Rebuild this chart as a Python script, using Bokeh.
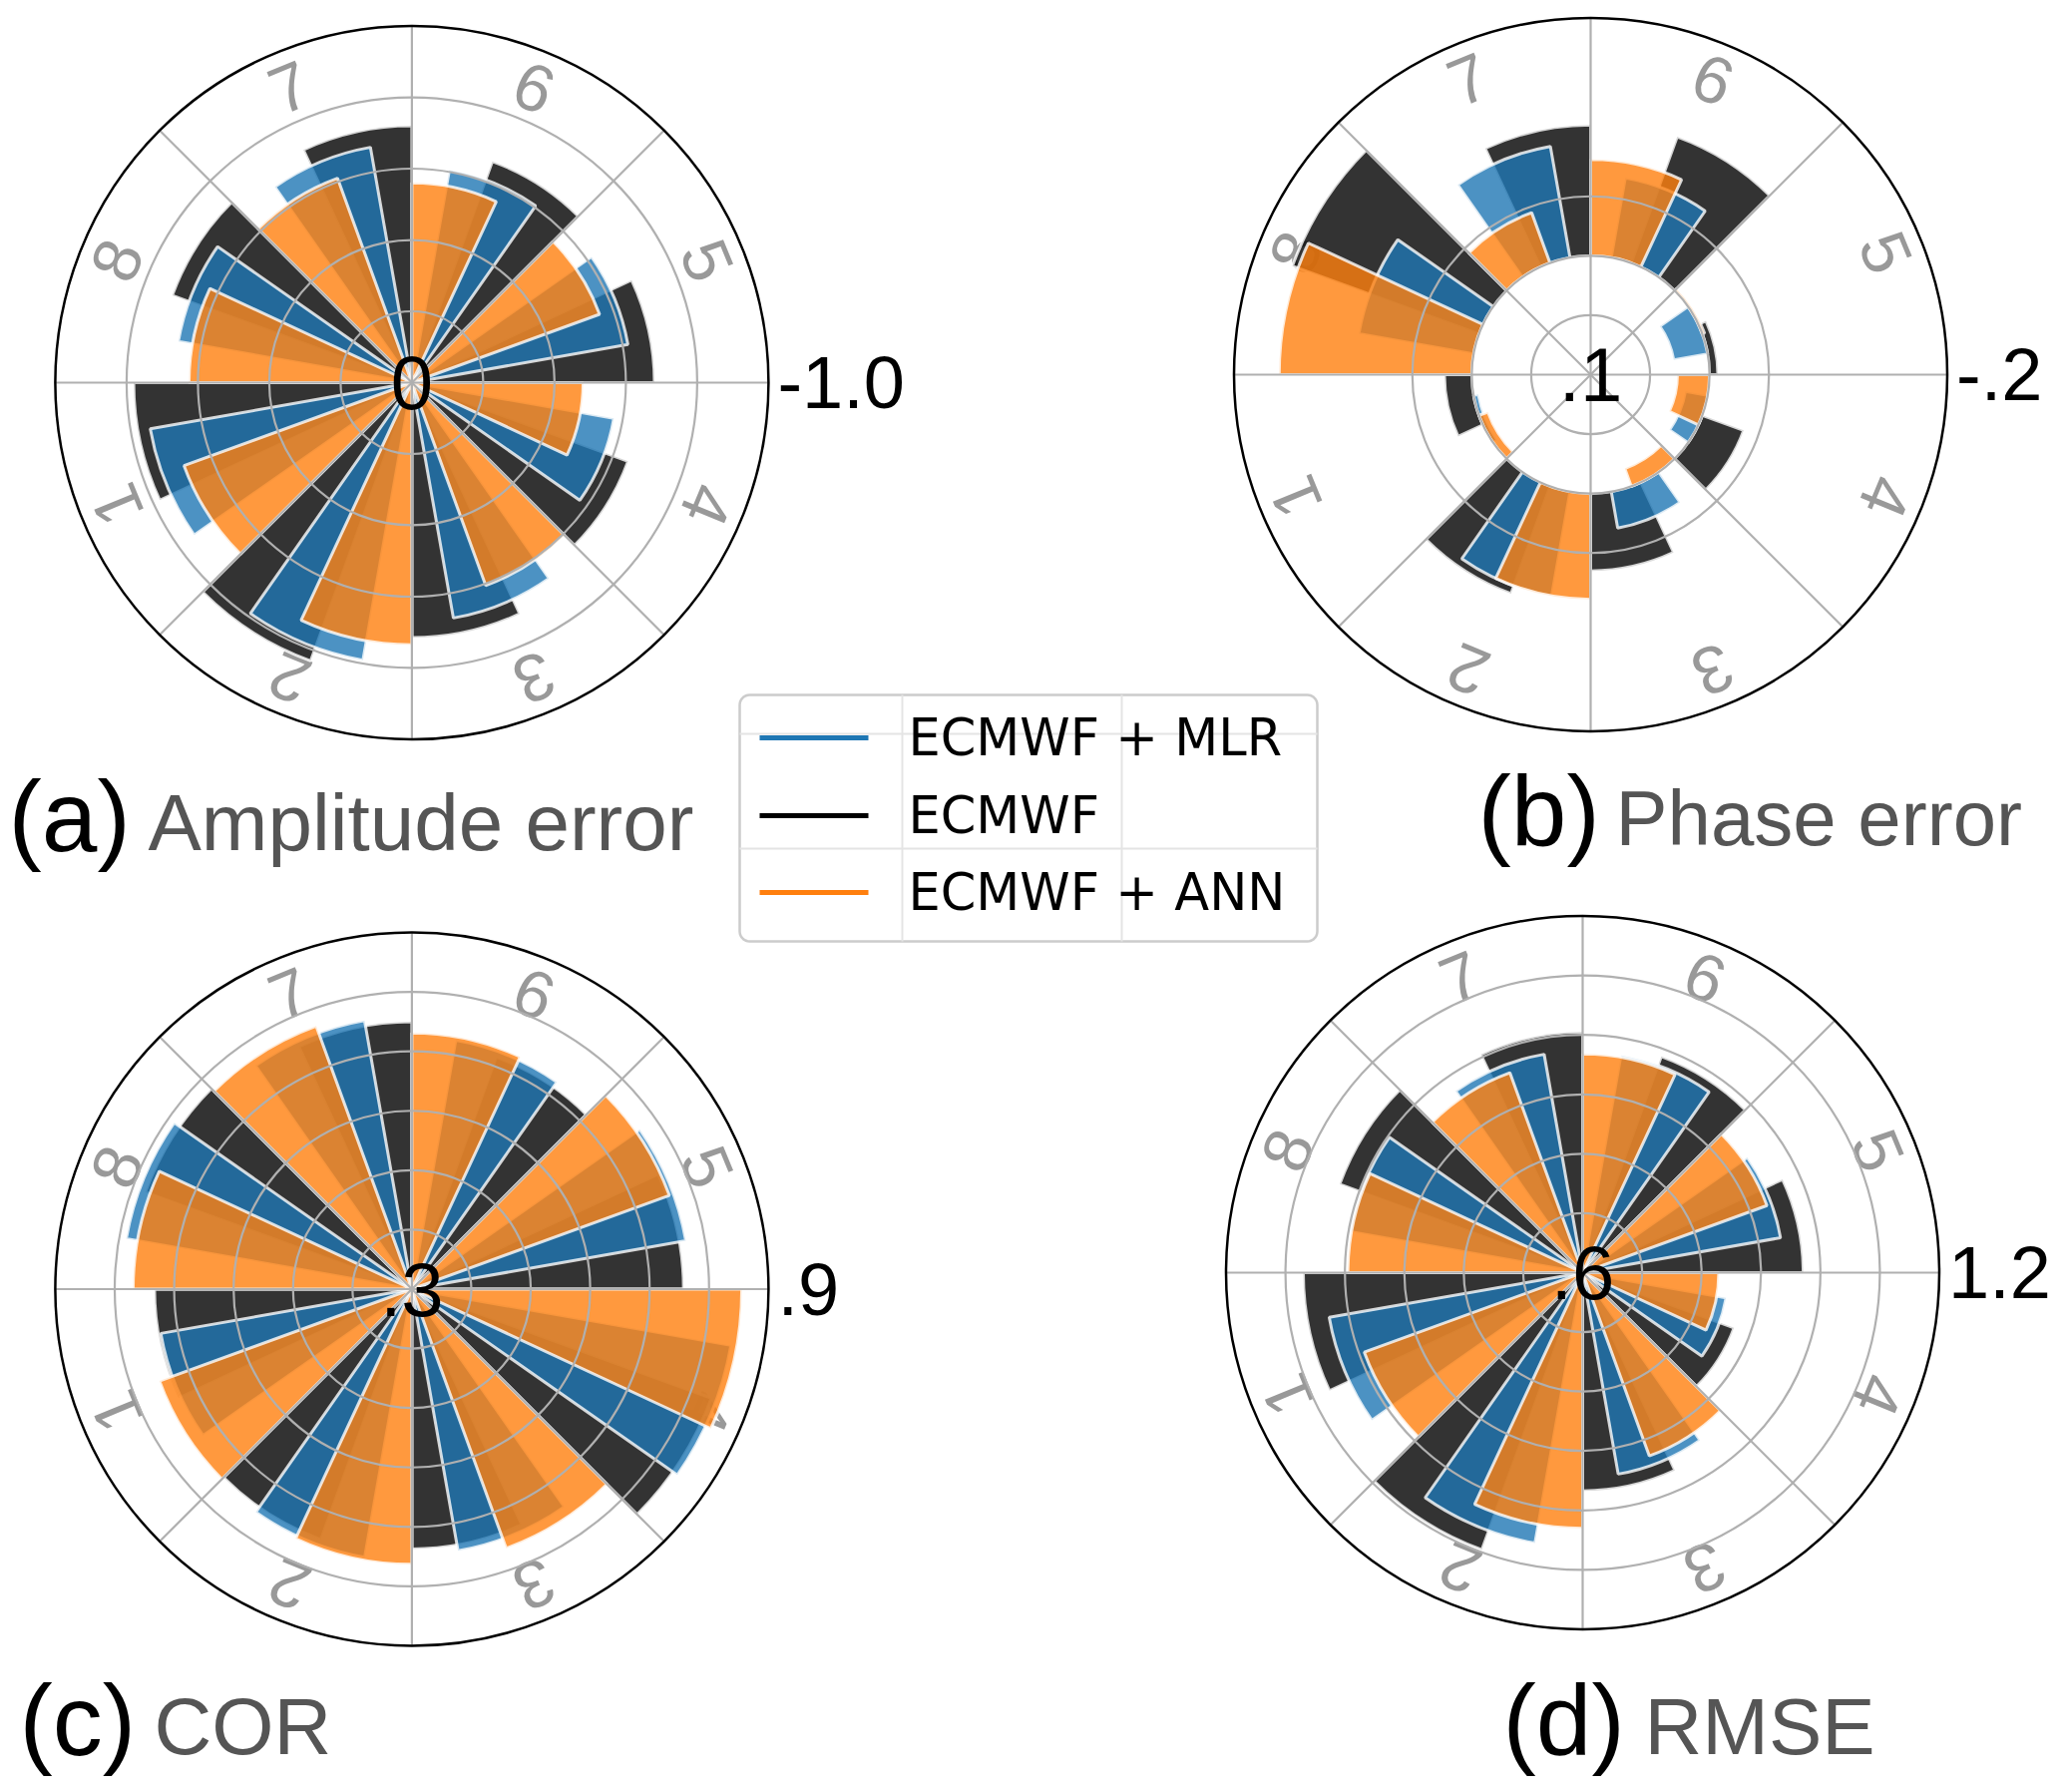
import numpy as np
from bokeh.plotting import figure
from bokeh.models import Range1d
from bokeh.core.properties import value
from bokeh.embed import file_html
from bokeh.resources import INLINE

# ---------------- data ----------------
phases = ["1", "2", "3", "4", "5", "6", "7", "8"]
series = ["ECMWF + MLR", "ECMWF", "ECMWF + ANN"]

amp_ecmwf = [-0.78, -0.83, -0.715, -0.645, -0.68, -0.66, -0.72, -0.715]
amp_mlr = [-0.745, -0.79, -0.67, -0.575, -0.615, -0.605, -0.67, -0.665]
amp_ann = [-0.68, -0.735, -0.605, -0.48, -0.56, -0.56, -0.61, -0.625]

pha_ecmwf = [-0.023, -0.096, -0.065, -0.037, -0.007, -0.113, -0.110, -0.167]
pha_mlr = [0.004, -0.089, -0.031, 0.019, 0.029, -0.068, -0.095, -0.098]
pha_ann = [0.008, -0.089, 0.016, 0.027, -0.002, -0.081, -0.045, -0.162]

cor_ecmwf = [0.733, 0.748, 0.737, 0.836, 0.757, 0.715, 0.750, 0.777]
cor_mlr = [0.729, 0.758, 0.747, 0.845, 0.768, 0.725, 0.759, 0.788]
cor_ann = [0.752, 0.763, 0.764, 0.855, 0.761, 0.731, 0.771, 0.769]

rmse_ecmwf = [1.070, 1.096, 0.967, 0.871, 0.971, 0.987, 1.005, 1.035]
rmse_mlr = [1.033, 1.062, 0.944, 0.845, 0.938, 0.971, 0.973, 0.997]
rmse_ann = [0.991, 1.030, 0.928, 0.829, 0.930, 0.968, 0.958, 0.995]

# radial axis settings: (value at centre, value at rim, bar base, grid values, centre label, rim label)
amp_axis = (0.0, -1.0, 0.0, [-0.2, -0.4, -0.6, -0.8], "0", "-1.0")
pha_axis = (0.1, -0.2, 0.0, [0.05, 0.0, -0.05], ".1", "-.2")
cor_axis = (0.3, 0.9, 0.3, [0.4, 0.5, 0.6, 0.7, 0.8], ".3", ".9")
rmse_axis = (0.6, 1.2, 0.6, [0.7, 0.8, 0.9, 1.0, 1.1], ".6", "1.2")

titles = [("(a)", "Amplitude error"), ("(b)", "Phase error"), ("(c)", "COR"), ("(d)", "RMSE")]

# ---------------- layout ----------------
W, H = 2060, 1790
p = figure(width=W, height=H, output_backend="svg", toolbar_location=None,
           x_range=Range1d(0, W), y_range=Range1d(0, H), min_border=0)
p.axis.visible = False
p.grid.visible = False
p.outline_line_color = None
p.background_fill_color = "white"
p.border_fill_color = "white"


def fx(x):
    return x


def fy(y):
    return H - y


FONT = value("Liberation Sans")
R = 357.5
COLORS = {"ECMWF": "black", "ECMWF + MLR": "#1f77b4", "ECMWF + ANN": "#ff7f0e"}
BAR_W = 25.0
OFFSETS = {"ECMWF": 0.0, "ECMWF + MLR": 10.0, "ECMWF + ANN": 20.0}
S_BIG = 100


def panel(cx, cy, axis, data, title, title_pos, s_txt=80):
    c0, c1, base, grid_vals, clab, olab = axis
    X, Y = fx(cx), fy(cy)

    def rad(v):
        return (v - c0) / (c1 - c0) * R

    # phase labels (beneath the bars)
    th = np.deg2rad(180.0 + 22.5 + 45.0 * np.arange(8))
    p.text(x=X + 0.895 * R * np.cos(th), y=Y + 0.895 * R * np.sin(th), text=phases,
           angle=th - np.pi / 2, text_align="center", text_baseline="middle",
           text_font=FONT, text_font_size=value("67px"), text_color="#999999")

    base_r = max(0.0, rad(base))
    # bars: ECMWF first, then MLR, then ANN
    for name in ["ECMWF", "ECMWF + MLR", "ECMWF + ANN"]:
        vals = np.array(data[name], dtype=float)
        rv = np.clip(rad(vals), 0, None)
        inner = np.minimum(rv, base_r)
        outer = np.maximum(rv, base_r)
        a0 = np.array([180.0 + 45.0 * i for i in range(len(phases))]) + OFFSETS[name]
        p.annular_wedge(x=[X] * len(vals), y=[Y] * len(vals),
                        inner_radius=inner, outer_radius=outer,
                        start_angle=np.deg2rad(a0), end_angle=np.deg2rad(a0 + BAR_W),
                        fill_color=COLORS[name], fill_alpha=0.8,
                        line_color="white", line_alpha=0.8, line_width=3)
    # grid on top
    p.circle(x=[X] * len(grid_vals), y=[Y] * len(grid_vals),
             radius=[rad(g) for g in grid_vals],
             fill_color=None, line_color="#b0b0b0", line_width=2.2)
    ang = np.deg2rad(np.arange(0, 360, 45))
    p.segment(x0=[X] * 8, y0=[Y] * 8, x1=X + R * np.cos(ang), y1=Y + R * np.sin(ang),
              line_color="#b0b0b0", line_width=2.2)
    p.circle(x=[X], y=[Y], radius=[R], fill_color=None, line_color="black", line_width=2.5)
    # centre and rim labels
    p.text(x=[X], y=[Y], text=[clab], text_align="center", text_baseline="middle",
           text_font=FONT, text_font_size=value("76px"), text_color="black")
    p.text(x=[X + R + 9], y=[Y], text=[olab], text_align="left", text_baseline="middle",
           text_font=FONT, text_font_size=value("74px"), text_color="black")
    # title (positions given as left edge and baseline)
    (tx1, tx2, ty) = title_pos
    p.text(x=[fx(tx1)], y=[fy(ty - 0.335 * S_BIG)], text=[title[0]], text_align="left",
           text_baseline="middle", text_font=FONT, text_font_size=value(f"{S_BIG}px"),
           text_color="black")
    p.text(x=[fx(tx2)], y=[fy(ty - 0.335 * s_txt)], text=[title[1]], text_align="left",
           text_baseline="middle", text_font=FONT, text_font_size=value(f"{s_txt}px"),
           text_color="#555555")


panel(412.4, 383.0, amp_axis,
      {"ECMWF": amp_ecmwf, "ECMWF + MLR": amp_mlr, "ECMWF + ANN": amp_ann},
      titles[0], (8, 148, 851))
panel(1594.0, 375.0, pha_axis,
      {"ECMWF": pha_ecmwf, "ECMWF + MLR": pha_mlr, "ECMWF + ANN": pha_ann},
      titles[1], (1481, 1619, 846), s_txt=78)
panel(412.4, 1291.5, cor_axis,
      {"ECMWF": cor_ecmwf, "ECMWF + MLR": cor_mlr, "ECMWF + ANN": cor_ann},
      titles[2], (19, 154, 1757))
panel(1586.0, 1275.0, rmse_axis,
      {"ECMWF": rmse_ecmwf, "ECMWF + MLR": rmse_mlr, "ECMWF + ANN": rmse_ann},
      titles[3], (1506, 1648, 1757))

# ---------------- legend ----------------
lx0, ly0, lx1, ly1, rr = 741, 696, 1320, 943, 10


def rounded_box(x0, y0, x1, y1, r):
    xs, ys = [], []
    corners = [(x1 - r, y0 + r, -90, 0), (x1 - r, y1 - r, 0, 90),
               (x0 + r, y1 - r, 90, 180), (x0 + r, y0 + r, 180, 270)]
    for (ccx, ccy, a, b) in corners:
        t = np.deg2rad(np.linspace(a, b, 8))
        xs.extend(ccx + r * np.cos(t))
        ys.extend(ccy + r * np.sin(t))
    return [fx(v) for v in xs], [fy(v) for v in ys]


bx, by = rounded_box(lx0, ly0, lx1, ly1, rr)
p.patch(bx, by, fill_color="white", fill_alpha=0.9, line_color="#cccccc", line_width=2.5)
# faint grid lines visible through the legend
p.segment(x0=[fx(904), fx(1124), fx(lx0), fx(lx0)], y0=[fy(ly0), fy(ly0), fy(735), fy(850)],
          x1=[fx(904), fx(1124), fx(lx1), fx(lx1)], y1=[fy(ly1), fy(ly1), fy(735), fy(850)],
          line_color="#e4e4e4", line_width=2)
leg_y = [739, 817, 894]
for name, yy in zip(series, leg_y):
    p.segment(x0=[fx(761)], y0=[fy(yy)], x1=[fx(870)], y1=[fy(yy)],
              line_color=COLORS[name], line_width=5)
p.text(x=[fx(910)] * 3, y=[fy(v) for v in leg_y], text=series, text_align="left",
       text_baseline="middle", text_font=value("DejaVu Sans"),
       text_font_size=value("51px"), text_color="black")

open("out.html", "w").write(file_html(p, INLINE))
